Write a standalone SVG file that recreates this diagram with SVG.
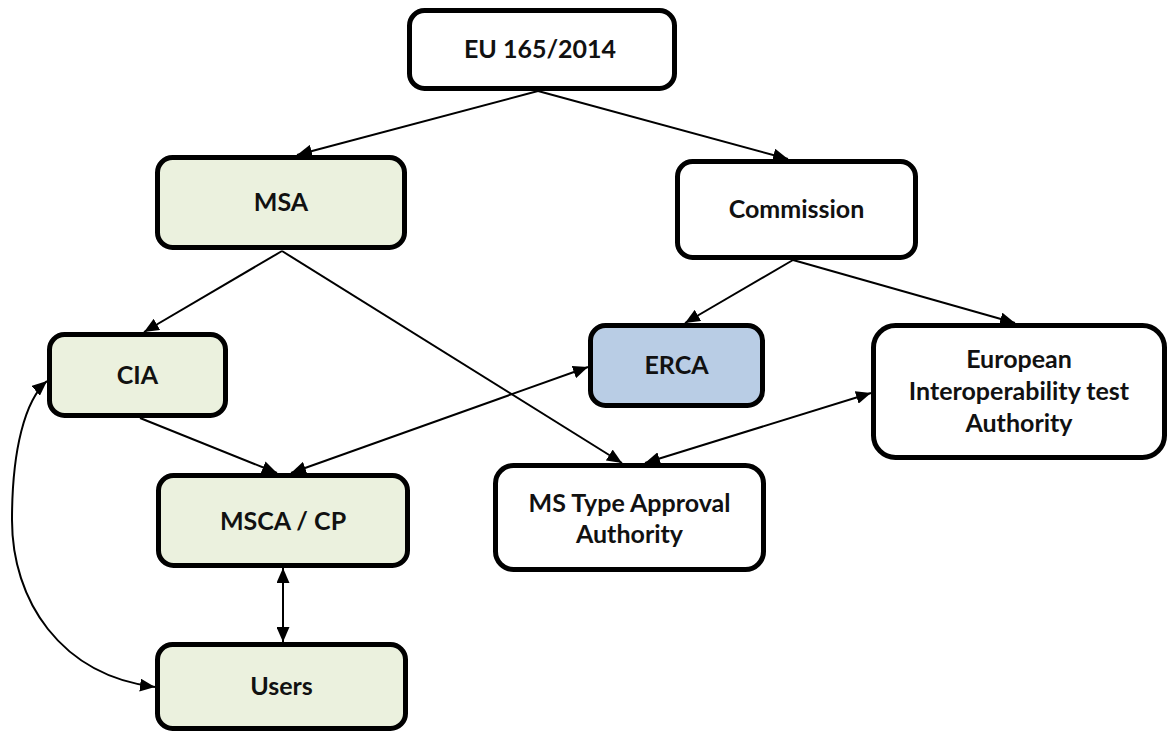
<svg xmlns="http://www.w3.org/2000/svg" width="1174" height="733" viewBox="0 0 1174 733">
<style>
.box{stroke:#000;stroke-width:5;fill:#fff}
.green{fill:#ebf1de}
.blue{fill:#b9cde5}
.lbl{font-family:Lato,"Open Sans",sans-serif;font-weight:700;font-size:25px;fill:#111;text-anchor:middle}
.c{stroke:#000;stroke-width:2;fill:none}
</style>
<defs>
<marker id="ah" markerUnits="userSpaceOnUse" markerWidth="15" markerHeight="13" viewBox="0 0 15 13" refX="15" refY="6.5" orient="auto-start-reverse">
<path d="M0,0 L15,6.5 L0,13 z" fill="#000"/>
</marker>
</defs>
<rect width="1174" height="733" fill="#fff"/>
<g id="connectors">
<line class="c" x1="538" y1="91" x2="297" y2="155" marker-end="url(#ah)"/>
<line class="c" x1="538" y1="91" x2="788" y2="159" marker-end="url(#ah)"/>
<line class="c" x1="282" y1="251" x2="144" y2="332" marker-end="url(#ah)"/>
<line class="c" x1="282" y1="251" x2="622" y2="463" marker-end="url(#ah)"/>
<line class="c" x1="793" y1="260" x2="685" y2="323" marker-end="url(#ah)"/>
<line class="c" x1="793" y1="260" x2="1015" y2="323" marker-end="url(#ah)"/>
<line class="c" x1="140" y1="418" x2="277" y2="473" marker-end="url(#ah)"/>
<line class="c" x1="588" y1="367" x2="291" y2="473" marker-start="url(#ah)" marker-end="url(#ah)"/>
<line class="c" x1="871" y1="393" x2="645" y2="463" marker-start="url(#ah)" marker-end="url(#ah)"/>
<line class="c" x1="283" y1="568" x2="283" y2="642" marker-start="url(#ah)" marker-end="url(#ah)"/>
<path class="c" d="M47,381 C25,400 12,450 12,520 C12,600 60,675 155,687" marker-start="url(#ah)" marker-end="url(#ah)"/>
</g>
<g id="eu">
<rect class="box" x="409.5" y="10.5" width="265" height="78" rx="15"/>
<text class="lbl" x="540" y="58">EU 165/2014</text>
</g>
<g id="msa">
<rect class="box green" x="157.5" y="157.5" width="247" height="90" rx="15"/>
<text class="lbl" x="281" y="211">MSA</text>
</g>
<g id="commission">
<rect class="box" x="677.5" y="161.5" width="238" height="96" rx="15"/>
<text class="lbl" x="796.5" y="218">Commission</text>
</g>
<g id="cia">
<rect class="box green" x="49.5" y="334.5" width="176" height="81" rx="15"/>
<text class="lbl" x="137.5" y="384">CIA</text>
</g>
<g id="erca">
<rect class="box blue" x="590.5" y="325.5" width="172" height="80" rx="15"/>
<text class="lbl" x="676.5" y="374">ERCA</text>
</g>
<g id="eita">
<rect class="box" x="873.5" y="325.5" width="291" height="132" rx="22"/>
<text class="lbl" x="1019" y="368">European</text>
<text class="lbl" x="1019" y="400">Interoperability test</text>
<text class="lbl" x="1019" y="432">Authority</text>
</g>
<g id="mstaa">
<rect class="box" x="495.5" y="465.5" width="268" height="104" rx="18"/>
<text class="lbl" x="629.5" y="512">MS Type Approval</text>
<text class="lbl" x="629.5" y="543">Authority</text>
</g>
<g id="msca">
<rect class="box green" x="158.5" y="475.5" width="249" height="90" rx="15"/>
<text class="lbl" x="283" y="530">MSCA / CP</text>
</g>
<g id="users">
<rect class="box green" x="157.5" y="644.5" width="248" height="84" rx="15"/>
<text class="lbl" x="281.5" y="695">Users</text>
</g>
</svg>
